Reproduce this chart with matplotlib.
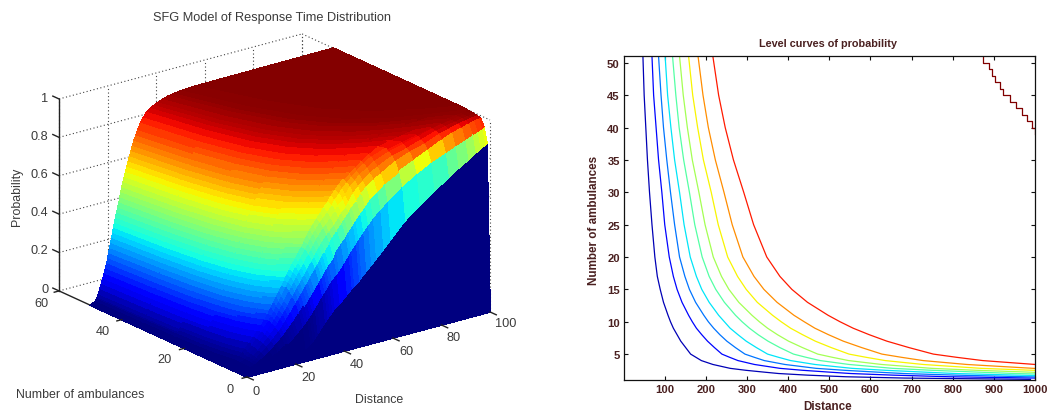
import numpy as np
import matplotlib
matplotlib.use("Agg")
import matplotlib.pyplot as plt
from mpl_toolkits.mplot3d import proj3d

plt.rcParams['font.family'] = ['Liberation Sans', 'DejaVu Sans']

# ---------- Right panel: level curves ----------
curve_y = [51, 45, 40, 35, 30, 25, 20, 17, 15, 13, 11, 10, 9, 8, 7, 6, 5, 4.5, 4, 3.4, 2.8, 2.5, 2.2, 2, 1.75, 1.5, 1.3, 1.1]
curve_p10 = [47, 50, 54, 58, 63, 69, 76, 82, 89, 97, 108, 114, 121, 130, 139, 151, 163, 176, 189, 217, 259, 297, 344, 377, 447, 541, 683, 989]
curve_p20 = [69, 73, 79, 85, 93, 100, 111, 121, 130, 142, 158, 167, 177, 190, 204, 221, 239, 258, 278, 318, 380, 435, 504, 552, 655, 793, 1000, 1449]
curve_p30 = [85, 91, 97, 105, 114, 124, 136, 149, 160, 175, 195, 206, 219, 234, 251, 272, 295, 318, 342, 392, 468, 536, 621, 681, 808, 978, 1233, 1786]
curve_p40 = [101, 107, 115, 124, 136, 147, 162, 177, 190, 208, 231, 245, 259, 278, 298, 323, 350, 377, 406, 465, 555, 636, 737, 807, 958, 1160, 1463, 2119]
curve_p50 = [119, 127, 135, 146, 160, 173, 191, 208, 224, 245, 272, 288, 306, 327, 351, 380, 413, 444, 478, 548, 654, 749, 868, 951, 1129, 1367, 1724, 2497]
curve_p60 = [136, 145, 155, 167, 183, 198, 218, 238, 256, 280, 312, 330, 350, 374, 401, 435, 472, 508, 547, 627, 749, 857, 993, 1088, 1292, 1564, 1973, 2857]
curve_p70 = [158, 168, 180, 194, 213, 230, 253, 277, 298, 325, 362, 383, 406, 435, 466, 505, 548, 590, 636, 728, 869, 995, 1153, 1264, 1500, 1816, 2290, 3318]
curve_p80 = [181, 193, 206, 223, 244, 264, 290, 317, 341, 373, 414, 439, 465, 498, 534, 579, 628, 676, 728, 834, 996, 1140, 1321, 1448, 1719, 2081, 2624, 3800]
curve_p90 = [217, 231, 247, 267, 292, 316, 348, 380, 409, 447, 497, 526, 558, 597, 640, 694, 753, 810, 873, 1000, 1194, 1367, 1584, 1736, 2061, 2495, 3146, 4557]
top_y = [51, 50, 49, 48, 47, 46, 45, 44, 43, 42, 41, 40, 39]
top_x = [873, 873, 887, 895, 903, 915, 923, 939, 955, 968, 980, 992, 1000]
curves = [curve_p10, curve_p20, curve_p30, curve_p40, curve_p50, curve_p60, curve_p70, curve_p80, curve_p90]
curve_colours = [.05, .13, .24, .35, .45, .55, .65, .76, .88]
right_xticks = [100, 200, 300, 400, 500, 600, 700, 800, 900, 1000]
right_yticks = [5, 10, 15, 20, 25, 30, 35, 40, 45, 50]

# ---------- Left panel: surface ----------
surf_y = [0, 1, 2, 3, 4, 5, 6, 7, 8, 10, 13, 18, 25, 35, 50]
low_x = [0, 5, 7, 8, 9, 11, 13, 15, 16, 18, 19, 20, 21, 22, 23, 25, 26, 27, 28, 29, 30, 31, 33, 34, 35, 36, 37, 39, 40, 42, 44, 45, 47, 48, 50, 52, 54, 57, 60, 66, 72, 78, 84, 88, 92, 95, 97, 99, 100]
x_y8 = [0, 5, 6.9, 8.3, 9.4, 11.3, 12.9, 14.6, 16.2, 17.6, 19, 20.1, 21.2, 22.3, 23.4, 24.5, 25.6, 26.7, 27.8, 28.9, 30.3, 31.4, 32.7, 33.8, 34.9, 36, 37.4, 38.8, 40.4, 41.8, 43.5, 44.8, 46.5, 48.1, 49.8, 52, 54.2, 56.7, 59.7, 63.3, 67.4, 71.5, 75.6, 81.1, 88, 93.5, 100, 100, 100]
x_y10 = [0, 4.4, 6.1, 7.3, 8.2, 9.9, 11.4, 12.8, 14.3, 15.5, 16.7, 17.7, 18.6, 19.6, 20.6, 21.5, 22.5, 23.5, 24.4, 25.4, 26.6, 27.6, 28.8, 29.8, 30.7, 31.7, 32.9, 34.1, 35.6, 36.8, 38.2, 39.4, 40.9, 42.4, 43.8, 45.7, 47.7, 49.9, 52.5, 55.7, 59.3, 62.9, 66.6, 71.4, 77.4, 82.3, 89.5, 100, 100]
x_y13 = [0, 3.7, 5.2, 6.2, 7, 8.4, 9.7, 10.9, 12.2, 13.2, 14.2, 15, 15.9, 16.7, 17.5, 18.3, 19.2, 20, 20.8, 21.6, 22.7, 23.5, 24.5, 25.3, 26.2, 27, 28, 29, 30.3, 31.3, 32.5, 33.6, 34.8, 36.1, 37.3, 38.9, 40.6, 42.4, 44.7, 47.4, 50.5, 53.6, 56.7, 60.8, 65.9, 70, 76.2, 88.6, 100]
x_y18 = [0, 3.1, 4.3, 5.2, 5.8, 7.1, 8.1, 9.1, 10.1, 11, 11.9, 12.6, 13.2, 13.9, 14.6, 15.3, 16, 16.7, 17.4, 18.1, 18.9, 19.6, 20.5, 21.2, 21.8, 22.5, 23.4, 24.3, 25.3, 26.1, 27.2, 28, 29.1, 30.1, 31.1, 32.5, 33.9, 35.4, 37.3, 39.6, 42.1, 44.7, 47.3, 50.7, 55, 58.5, 63.6, 74, 100]
x_y25 = [0, 2.6, 3.6, 4.4, 4.9, 6, 6.8, 7.7, 8.6, 9.3, 10, 10.6, 11.2, 11.8, 12.4, 12.9, 13.5, 14.1, 14.7, 15.3, 16, 16.6, 17.3, 17.9, 18.5, 19.1, 19.8, 20.5, 21.4, 22.1, 23, 23.7, 24.6, 25.5, 26.3, 27.5, 28.7, 30, 31.6, 33.5, 35.6, 37.8, 40, 42.9, 46.6, 49.5, 53.8, 62.6, 100]
x_y35 = [0, 2.2, 3.1, 3.7, 4.2, 5, 5.8, 6.5, 7.3, 7.9, 8.5, 9, 9.5, 10, 10.5, 10.9, 11.4, 11.9, 12.4, 12.9, 13.5, 14, 14.6, 15.1, 15.6, 16.1, 16.7, 17.3, 18.1, 18.7, 19.4, 20, 20.8, 21.5, 22.3, 23.2, 24.2, 25.3, 26.7, 28.3, 30.1, 32, 33.8, 36.3, 39.4, 41.8, 45.5, 52.9, 100]
x_y50 = [0, 1.8, 2.5, 3, 3.4, 4.1, 4.7, 5.3, 5.9, 6.4, 6.9, 7.3, 7.7, 8.1, 8.5, 8.9, 9.3, 9.7, 10.1, 10.5, 11, 11.4, 11.9, 12.3, 12.7, 13.1, 13.6, 14.1, 14.7, 15.2, 15.8, 16.3, 16.9, 17.5, 18.1, 18.9, 19.7, 20.6, 21.7, 23, 24.5, 26, 27.5, 29.5, 32, 34, 37, 43, 100]
surf_x = [low_x] * 8 + [x_y8, x_y10, x_y13, x_y18, x_y25, x_y35, x_y50]

z_y0 = [0] * 49
z_y1 = [0, 0, 0, 0, 0, .002, .005, .009, .012, .018, .022, .026, .03, .035, .04, .052, .06, .07, .08, .095, .11, .127, .16, .175, .19, .205, .22, .24, .25, .275, .3, .31, .33, .345, .37, .395, .42, .46, .5, .58, .64, .695, .745, .78, .81, .835, .85, .865, .87]
z_y2 = [0, .004, .008, .012, .017, .028, .042, .055, .063, .081, .09, .1, .112, .124, .135, .16, .173, .188, .203, .221, .237, .256, .292, .31, .327, .346, .362, .388, .4, .435, .47, .49, .52, .54, .57, .6, .63, .665, .695, .755, .8, .84, .87, .89, .91, .925, .935, .945, .95]
z_y3 = [0, .006, .012, .019, .026, .041, .061, .08, .09, .114, .125, .14, .155, .17, .185, .217, .233, .25, .268, .288, .304, .324, .361, .38, .399, .42, .436, .466, .5, .53, .56, .58, .61, .63, .66, .69, .72, .75, .78, .82, .855, .89, .925, .945, .96, .97, .978, .984, .985]
z_y4 = [0, .007, .015, .023, .032, .051, .075, .097, .109, .137, .15, .167, .185, .203, .22, .257, .275, .294, .313, .334, .35, .372, .41, .43, .45, .471, .488, .52, .55, .58, .61, .63, .66, .68, .71, .74, .77, .8, .82, .865, .895, .915, .945, .96, .972, .98, .985, .989, .99]
z_y5 = [0, .008, .017, .026, .037, .058, .085, .109, .123, .153, .168, .187, .206, .226, .245, .286, .305, .325, .346, .367, .384, .406, .445, .465, .486, .508, .526, .559, .573, .6, .63, .653, .678, .698, .74, .77, .795, .825, .85, .885, .905, .93, .955, .967, .976, .983, .987, .99, .992]
z_y6 = [0, .009, .019, .029, .041, .063, .092, .119, .134, .167, .182, .202, .223, .245, .265, .308, .328, .35, .372, .394, .411, .433, .472, .494, .515, .538, .556, .59, .605, .632, .663, .686, .712, .732, .77, .795, .82, .845, .87, .9, .92, .94, .96, .97, .978, .985, .988, .991, .995]
z_y7 = [0, .0095, .02, .03, .043, .067, .098, .126, .141, .176, .192, .213, .236, .258, .28, .325, .346, .368, .391, .414, .431, .454, .493, .515, .536, .56, .578, .613, .628, .655, .687, .711, .737, .758, .786, .808, .831, .862, .886, .912, .93, .945, .96, .97, .978, .985, .988, .991, .995]
z_levels = [0, .01, .02, .035, .05, .075, .1, .125, .15, .175, .2, .225, .25, .275, .3, .325, .35, .375, .4, .425, .45, .475, .5, .525, .55, .575, .6, .625, .65, .675, .7, .725, .75, .775, .8, .825, .85, .875, .9, .925, .94, .95, .96, .97, .98, .985, .99, .995, 1]
band1_colour = [0, 0, 0, 0, 0, 0, 0, 0, 0, 0, 0, 0, 0, 0, .002, .005, .007, .01, .013, .018, .03, .035, .05, .06, .07, .08, .09, .11, .12, .15, .17, .185, .21, .225, .25, .27, .29, .32, .35, .38, .4, .42, .47, .5, .54, .58, .61, .64, .66]
surf_z = [z_y0, z_y1, z_y2, z_y3, z_y4, z_y5, z_y6, z_y7] + [z_levels] * 7
surf_c = [z_y0, band1_colour, z_y1, z_y2, z_y3, z_y4, z_y5, z_y6] + [z_levels] * 7
left_xticks = [0, 20, 40, 60, 80, 100]
left_yticks = [0, 20, 40, 60]
left_zticks = [0, .2, .4, .6, .8, 1]
z_labels = ['0', '0.2', '0.4', '0.6', '0.8', '1']

W, H = 1049, 414
fig = plt.figure(figsize=(W / 100, H / 100), dpi=100)
TXT = '#3a3a3a'
def put(x, y, s, **kw):
    kw.setdefault('color', TXT)
    kw.setdefault('ha', 'center')
    kw.setdefault('va', 'center')
    fig.text(x / W, 1 - y / H, s, **kw)

# ---------- 3D panel ----------
S = 640
ax = fig.add_axes([0, 0, S / W, S / H], projection='3d', proj_type='ortho', computed_zorder=False)
ax.view_init(elev=20.5, azim=-127.4)
ax.set_xlim(0, 100); ax.set_ylim(0, 60); ax.set_zlim(0, 1)
aspect = (306, 309.5, 205)
ax.set_box_aspect(aspect, zoom=1.0)
ax.set_axis_off()

def pix(x, y, z):
    ax.apply_aspect()
    xs, ys, _ = proj3d.proj_transform(x, y, z, ax.get_proj())
    return ax.transData.transform((xs, ys))

fig.canvas.draw()
d = pix(100, 0, 0) - pix(0, 0, 0)
ax.set_box_aspect(aspect, zoom=243 / abs(d[0]))
fig.canvas.draw()
p0 = pix(0, 0, 0)
pos = ax.get_position()
ax.set_position([pos.x0 + (247 - p0[0]) / W, pos.y0 + (H - 378 - p0[1]) / H, pos.width, pos.height])

yy = np.array(surf_y, float)
X = np.array(surf_x, float)
Y = np.repeat(yy[:, None], X.shape[1], axis=1)
Z = np.array(surf_z, float)
C = plt.cm.jet(np.array(surf_c, float))
ax.plot_surface(X, Y, Z, facecolors=C, rstride=1, cstride=1, shade=False,
                antialiased=False, linewidth=0.6, zorder=3)

dot = dict(color='#444444', lw=0.8, ls=(0, (1, 2.2)), zorder=1)
xmax, ymax = left_xticks[-1], left_yticks[-1]
for z in left_zticks:
    ax.plot([0, xmax], [ymax, ymax], [z, z], **dot)
    ax.plot([xmax, xmax], [ymax, 0], [z, z], **dot)
for x in left_xticks:
    ax.plot([x, x], [ymax, ymax], [0, 1], **dot)
for y in left_yticks:
    ax.plot([xmax, xmax], [y, y], [0, 1], **dot)
line = dict(color='#222222', lw=1.0, zorder=5)
ax.plot([0, 0], [ymax, ymax], [0, 1], **line)
ax.plot([0, 0], [ymax, 0], [0, 0], zorder=2, color='#222222', lw=1.0)
ax.plot([0, xmax], [0, 0], [0, 0], zorder=2, color='#222222', lw=1.0)
for z in left_zticks:
    ax.plot([0, 0], [ymax, ymax + 2], [z, z], **line)
for y in left_yticks:
    ax.plot([0, -2], [y, y], [0, 0], **line)
for x in left_xticks:
    ax.plot([x, x], [0, -2], [0, 0], **line)

fs = 9.2
put(272, 18, 'SFG Model of Response Time Distribution', fontsize=9.2)
for s, yp in zip(z_labels, [290, 251, 213, 175, 137, 99]):
    put(48.5, yp, s, ha='right', fontsize=fs)
for s, (xp, yp) in zip(left_yticks, [(230, 390), (165, 360), (103, 332), (41, 304)]):
    put(xp, yp, str(s), fontsize=fs)
for s, (xp, yp) in zip(left_xticks, [(256, 392), (308, 378), (357, 365), (406, 352), (454, 338), (506, 324)]):
    put(xp, yp, str(s), fontsize=fs)
put(17, 197, 'Probability', rotation=90, fontsize=8.9)
put(16, 395, 'Number of ambulances', ha='left', fontsize=8.9)
put(379, 400, 'Distance', fontsize=8.9)

# ---------- Contour panel ----------
ax2 = fig.add_axes([624 / W, 1 - 381 / H, 411 / W, (381 - 57.3) / H])
for xs, c in zip(curves, curve_colours):
    ax2.plot(xs, curve_y, color=plt.cm.jet(c), lw=0.9)
ax2.plot(top_x, top_y, color=plt.cm.jet(1.0), lw=0.9, drawstyle='steps-post')
ax2.set_xlim(1, 1000); ax2.set_ylim(1, 51)
ax2.set_xticks(right_xticks); ax2.set_yticks(right_yticks)
ax2.tick_params(direction='in', top=True, right=True, length=3.2, width=0.8, pad=3,
                labelsize=8.1, labelcolor='#4a2020', color='#111111')
for t in ax2.get_xticklabels() + ax2.get_yticklabels():
    t.set_fontweight('bold')
for sp in ax2.spines.values():
    sp.set_linewidth(0.9); sp.set_color('#111111')
M = '#4a2020'
put(828, 44, 'Level curves of probability', fontsize=7.8, fontweight='bold', color=M)
put(828, 407, 'Distance', fontsize=8.4, fontweight='bold', color=M)
put(594, 220, 'Number of ambulances', rotation=90, fontsize=8.4, fontweight='bold', color=M)

fig.savefig('out.png', dpi=100)
